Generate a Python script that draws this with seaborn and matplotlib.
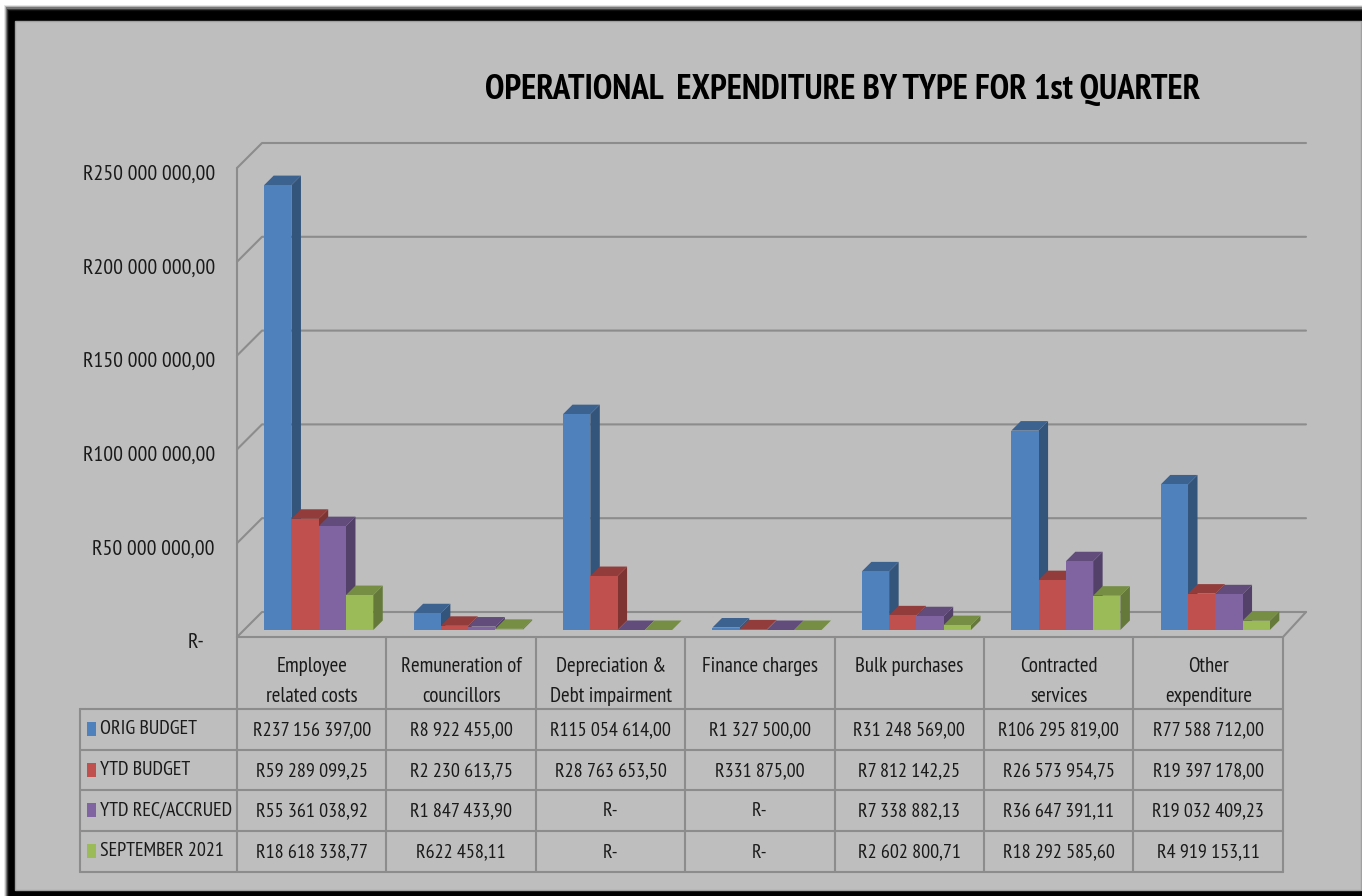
import matplotlib
matplotlib.use("Agg")
import matplotlib.font_manager as fm
import matplotlib.pyplot as plt
import matplotlib.transforms as mtrans
import pandas as pd
import seaborn as sns
from matplotlib.patches import Polygon, Rectangle

categories = ["Employee\nrelated costs", "Remuneration of\ncouncillors", "Depreciation &\nDebt impairment",
              "Finance charges", "Bulk purchases", "Contracted\nservices", "Other\nexpenditure"]
series_names = ["ORIG BUDGET", "YTD BUDGET", "YTD REC/ACCRUED", "SEPTEMBER 2021"]
orig_budget = [237156397.00, 8922455.00, 115054614.00, 1327500.00, 31248569.00, 106295819.00, 77588712.00]
ytd_budget = [59289099.25, 2230613.75, 28763653.50, 331875.00, 7812142.25, 26573954.75, 19397178.00]
ytd_accrued = [55361038.92, 1847433.90, 0, 0, 7338882.13, 36647391.11, 19032409.23]
september = [18618338.77, 622458.11, 0, 0, 2602800.71, 18292585.60, 4919153.11]
yticks = [0, 50000000, 100000000, 150000000, 200000000, 250000000]
colors = ["#4F81BD", "#C0504D", "#8064A2", "#9BBB59"]

W, H = 1362, 896
BG = "#BEBEBE"
LINE = "#8C8C8C"
TEXT = "#1A1A1A"
TABLE_SIZE = 14.4
HEADER_SIZE = 15
TICK_SIZE = 15.7


def rand(v):
    if v == 0:
        return "R-"
    return "R" + f"{v:,.2f}".replace(",", " ").replace(".", ",")


def shade(c, f):
    r, g, b = matplotlib.colors.to_rgb(c)
    return (r * f, g * f, b * f)


sns.set_theme(style="white")
names = {f.name for f in fm.fontManager.ttflist}
plt.rcParams["font.family"] = [n for n in ("PT Sans Narrow", "Carlito", "Liberation Sans") if n in names][:1]

all_values = [orig_budget, ytd_budget, ytd_accrued, september]
df = pd.DataFrame({
    "category": categories * 4,
    "series": [s for s in series_names for _ in categories],
    "value": [v for vals in all_values for v in vals],
})

fig = plt.figure(figsize=(W / 100, H / 100), dpi=100, facecolor="white")

# frame and table live on a full figure axes in pixel units
bg = fig.add_axes([0, 0, 1, 1], zorder=0)
bg.set_xlim(0, W)
bg.set_ylim(H, 0)
bg.axis("off")
for i, a in enumerate([0.1, 0.2, 0.35, 0.5, 0.7, 0.85]):
    bg.add_patch(Rectangle((4 + i, 5 + i * 1.2), W, H, color="black", alpha=a, lw=0))
bg.add_patch(Rectangle((10, 12), W, H, color="black", lw=0))
bg.add_patch(Rectangle((15, 21), W - 16, 869, facecolor=BG, edgecolor="#A0A0A0", lw=1))

# table grid
col_x = [237 + 149.4 * i for i in range(8)]
row_y = [709, 750, 790, 831, 872]
for x in col_x:
    bg.plot([x, x], [637, 872], color=LINE, lw=1.5)
bg.plot([80, 80], [709, 872], color=LINE, lw=1.5)
for y in row_y:
    bg.plot([80, col_x[-1]], [y, y], color=LINE, lw=1.5)

for r, (name, vals, c) in enumerate(zip(series_names, all_values, colors)):
    cy = (row_y[r] + row_y[r + 1]) / 2
    bg.add_patch(Rectangle((87, cy - 7), 9, 14, color=c, lw=0))
    bg.text(100, cy, name, fontsize=TABLE_SIZE, color=TEXT, va="center", ha="left")
    for j, v in enumerate(vals):
        bg.text(col_x[j] + 74.7, cy + 1, rand(v), fontsize=TABLE_SIZE, color=TEXT, va="center", ha="center")

# bars
ax = fig.add_axes([244 / W, (H - 630) / H, 1046 / W, 469 / H], zorder=1)
ax.patch.set_visible(False)
sns.barplot(data=df, x="category", y="value", hue="series", palette=colors, hue_order=series_names,
            order=categories, width=0.73, gap=0, saturation=1, legend=False, linewidth=0, ax=ax)
ax.set_xlim(-0.5, 6.5)
ax.set_ylim(0, 250000000)
ax.set_xlabel("")
ax.set_ylabel("")
sns.despine(ax=ax, left=True, bottom=True)

# 3d walls: same data scale, shifted in pixels
front = ax.transData + mtrans.Affine2D().translate(-7, -7)
back = ax.transData + mtrans.Affine2D().translate(18, 18)
x0, x1 = -0.5, 6.5
px = 1046 / 7
for v in yticks:
    p0 = front.transform((x0, v))
    p1 = back.transform((x0, v))
    p2 = back.transform((x1 - 2 / px, v))
    ax.plot([p0[0], p1[0], p2[0]], [p0[1], p1[1], p2[1]], color=LINE, lw=1.5,
            transform=mtrans.IdentityTransform(), clip_on=False, zorder=1)
pa = front.transform((x0, 0))
pb = front.transform((x1, 0))
pc = back.transform((x1 - 2 / px, 0))
pt = front.transform((x0, yticks[-1]))
ax.plot([pt[0], pa[0], pb[0], pc[0]], [pt[1], pa[1], pb[1], pc[1]], color=LINE, lw=1.5,
        transform=mtrans.IdentityTransform(), clip_on=False, zorder=1)

depth = 9.5
for i, cont in enumerate(ax.containers):
    col = colors[i]
    for bar in cont:
        bar.set_zorder(3 + i + 0.5)
        bar.set_clip_on(False)
        l, b = ax.transData.transform((bar.get_x(), 0))
        r, t = ax.transData.transform((bar.get_x() + bar.get_width(), bar.get_height()))
        top = [(l, t), (r, t), (r + depth, t + depth), (l + depth, t + depth)]
        side = [(r, b), (r + depth, b + depth), (r + depth, t + depth), (r, t)]
        for pts, f in ((side, 0.65), (top, 0.76)):
            ax.add_patch(Polygon(pts, closed=True, facecolor=shade(col, f), lw=0,
                                 transform=mtrans.IdentityTransform(), clip_on=False, zorder=3 + i))

# axis labels sit on the front wall
ax.set_yticks(yticks)
ax.set_yticklabels([rand(v) for v in yticks])
ax.tick_params(axis="y", length=0, pad=21, labelsize=TICK_SIZE, labelcolor=TEXT)
for v, lab in zip(yticks, ax.get_yticklabels()):
    lab.set_transform(lab.get_transform() + mtrans.Affine2D().translate(-10 if v == 0 else 0, -11))
ax.set_xticks(range(7))
ax.set_xticklabels(categories, linespacing=1.72)
ax.tick_params(axis="x", length=0, pad=19.5, labelsize=HEADER_SIZE, labelcolor=TEXT)
for lab in ax.get_xticklabels():
    lab.set_transform(lab.get_transform() + mtrans.Affine2D().translate(-7, 0))

ax.set_title("OPERATIONAL  EXPENDITURE BY TYPE FOR 1st QUARTER", x=0.572, y=1.132, pad=0,
             fontsize=25.2, fontweight="bold", color="black")

fig.savefig("out.png", dpi=100)
